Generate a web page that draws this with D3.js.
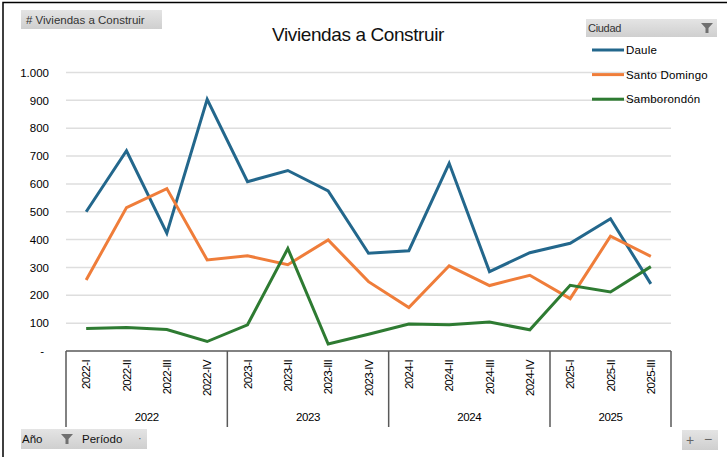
<!DOCTYPE html>
<html>
<head>
<meta charset="utf-8">
<script src="https://cdn.jsdelivr.net/npm/d3@7"></script>
<style>
  body { margin: 0; background: #fff; }
  text { font-family: "Liberation Sans", Arial, sans-serif; }
</style>
</head>
<body>
<svg id="chart" width="727" height="457"></svg>
<script>
//----------------------------------------------------------- DATA
var years = ["2022", "2023", "2024", "2025"];
var periods = ["2022-I","2022-II","2022-III","2022-IV",
               "2023-I","2023-II","2023-III","2023-IV",
               "2024-I","2024-II","2024-III","2024-IV",
               "2025-I","2025-II","2025-III"];
var daule        = [500, 719, 423, 904, 608, 648, 575, 351, 360, 674, 285, 353, 387, 475, 241];
var santoDomingo = [255, 515, 583, 327, 342, 310, 399, 249, 156, 306, 235, 272, 188, 412, 340];
var samborondon  = [ 81,  84,  77,  34,  94, 368,  25,  60,  97,  94, 104,  76, 236, 212, 303];
var yTicks = [0, 100, 200, 300, 400, 500, 600, 700, 800, 900, 1000];
var seriesNames = ["Daule", "Santo Domingo", "Samborondón"];

//----------------------------------------------------------- SETUP
var svg = d3.select("#chart");
var colors = ["#23678c", "#ef7d3a", "#2e7b32"];
var series = [daule, santoDomingo, samborondon];

var x = d3.scaleBand().domain(periods).range([66, 671]);
var y = d3.scaleLinear().domain([0, 1000]).range([351, 72.5]);
var fmt = function(v){ return v === 0 ? "-" : d3.format(",")(v).replace(/,/g, "."); };

// outer frame
svg.append("path").attr("d", "M3,460 V2.5 H727")
  .attr("fill", "none").attr("stroke", "#000").attr("stroke-width", 1.5);

// gradients for the pivot buttons
var defs = svg.append("defs");
var grad = defs.append("linearGradient").attr("id", "btn").attr("x1", 0).attr("y1", 0).attr("x2", 0).attr("y2", 1);
grad.append("stop").attr("offset", "0%").attr("stop-color", "#e4e4e4");
grad.append("stop").attr("offset", "100%").attr("stop-color", "#cfcfcf");

function filterIcon(g, cx, cy){
  g.append("path")
    .attr("d", "M" + (cx-6) + "," + (cy-5) + " h12 l-4.5,5 v5 h-3 v-5 z")
    .attr("fill", "#707070");
}

//----------------------------------------------------------- GRID + Y AXIS
svg.append("g").selectAll("line").data(yTicks.filter(function(d){ return d > 0; }))
  .enter().append("line")
    .attr("x1", 66).attr("x2", 671)
    .attr("y1", function(d){ return y(d); }).attr("y2", function(d){ return y(d); })
    .attr("stroke", "#dedede").attr("stroke-width", 1.5);

var yAxis = svg.append("g").attr("transform", "translate(49,0)")
  .call(d3.axisLeft(y).tickValues(yTicks).tickFormat(fmt).tickSize(0).tickPadding(0));
yAxis.select(".domain").remove();
yAxis.selectAll("text").attr("font-size", 11.5).attr("fill", "#000")
  .attr("font-family", "Liberation Sans, Arial, sans-serif")
  .attr("dx", function(d){ return d === 0 ? -5 : 0; });

//----------------------------------------------------------- X AXIS (two levels)
svg.append("line").attr("x1", 66).attr("x2", 671).attr("y1", 351).attr("y2", 351)
  .attr("stroke", "#595959").attr("stroke-width", 1.5);

var seps = [0, 4, 8, 12, 15].map(function(i){ return i < 15 ? x(periods[i]) : x.range()[1]; });
svg.append("g").selectAll("line").data(seps).enter().append("line")
  .attr("x1", function(d){ return d; }).attr("x2", function(d){ return d; })
  .attr("y1", 351).attr("y2", 427)
  .attr("stroke", "#595959").attr("stroke-width", 1.5);

svg.append("g").selectAll("text").data(periods).enter().append("text")
  .attr("transform", function(d){ return "translate(" + (x(d) + x.bandwidth()/2 + 4) + ",360) rotate(-90)"; })
  .attr("text-anchor", "end")
  .attr("font-size", 11.5)
  .attr("letter-spacing", -0.6)
  .text(function(d){ return d; });

svg.append("g").selectAll("text").data(years).enter().append("text")
  .attr("x", function(d, i){ return (seps[i] + seps[i+1]) / 2; })
  .attr("y", 421)
  .attr("text-anchor", "middle")
  .attr("font-size", 11.5)
  .attr("letter-spacing", -0.4)
  .text(function(d){ return d; });

//----------------------------------------------------------- LINES
var line = d3.line()
  .x(function(d, i){ return x(periods[i]) + x.bandwidth()/2; })
  .y(function(d){ return y(d); });

svg.append("g").selectAll("path").data(series).enter().append("path")
  .attr("d", line)
  .attr("fill", "none")
  .attr("stroke", function(d, i){ return colors[i]; })
  .attr("stroke-width", 3)
  .attr("stroke-linejoin", "miter");

//----------------------------------------------------------- TITLE
svg.append("text").attr("x", 358).attr("y", 41)
  .attr("text-anchor", "middle")
  .attr("font-family", "Roboto, sans-serif")
  .attr("font-weight", 300)
  .attr("font-size", 19)
  .attr("letter-spacing", -0.4)
  .attr("fill", "#111")
  .text("Viviendas a Construir");

//----------------------------------------------------------- BUTTONS
var b1 = svg.append("g");
b1.append("rect").attr("x", 21).attr("y", 10).attr("width", 141).attr("height", 19).attr("fill", "url(#btn)");
b1.append("text").attr("x", 26).attr("y", 24).attr("font-size", 11.5).attr("fill", "#333")
  .text("# Viviendas a Construir");

var b2 = svg.append("g");
b2.append("rect").attr("x", 586).attr("y", 19).attr("width", 131).attr("height", 18).attr("fill", "url(#btn)");
b2.append("text").attr("x", 588).attr("y", 32).attr("font-size", 11).attr("fill", "#333").attr("letter-spacing", -0.3)
  .text("Ciudad");
filterIcon(b2, 707, 28);

var b3 = svg.append("g");
b3.append("rect").attr("x", 21).attr("y", 429).attr("width", 126).attr("height", 20).attr("fill", "url(#btn)");
b3.append("text").attr("x", 22).attr("y", 443).attr("font-size", 11.5).attr("fill", "#111").text("Año");
filterIcon(b3, 67, 439);
b3.append("text").attr("x", 82).attr("y", 443).attr("font-size", 11.5).attr("fill", "#111").text("Período");
b3.append("text").attr("x", 138).attr("y", 442).attr("font-size", 11).attr("fill", "#555").text("·");

var b4 = svg.append("g");
b4.append("rect").attr("x", 682).attr("y", 430).attr("width", 36).attr("height", 20).attr("fill", "url(#btn)");
b4.append("text").attr("x", 690).attr("y", 445).attr("text-anchor", "middle").attr("font-size", 14).attr("fill", "#666").text("+");
b4.append("text").attr("x", 708).attr("y", 444).attr("text-anchor", "middle").attr("font-size", 14).attr("fill", "#666").text("−");

//----------------------------------------------------------- LEGEND
var legend = svg.append("g").selectAll("g").data(seriesNames).enter().append("g")
  .attr("transform", function(d, i){ return "translate(0," + (50 + i * 24.6) + ")"; });
legend.append("line").attr("x1", 592).attr("x2", 624).attr("y1", 0).attr("y2", 0)
  .attr("stroke", function(d, i){ return colors[i]; }).attr("stroke-width", 3);
legend.append("text").attr("x", 626).attr("y", 4).attr("font-size", 11.5)
  .attr("letter-spacing", 0.2)
  .text(function(d){ return d; });
</script>
</body>
</html>
